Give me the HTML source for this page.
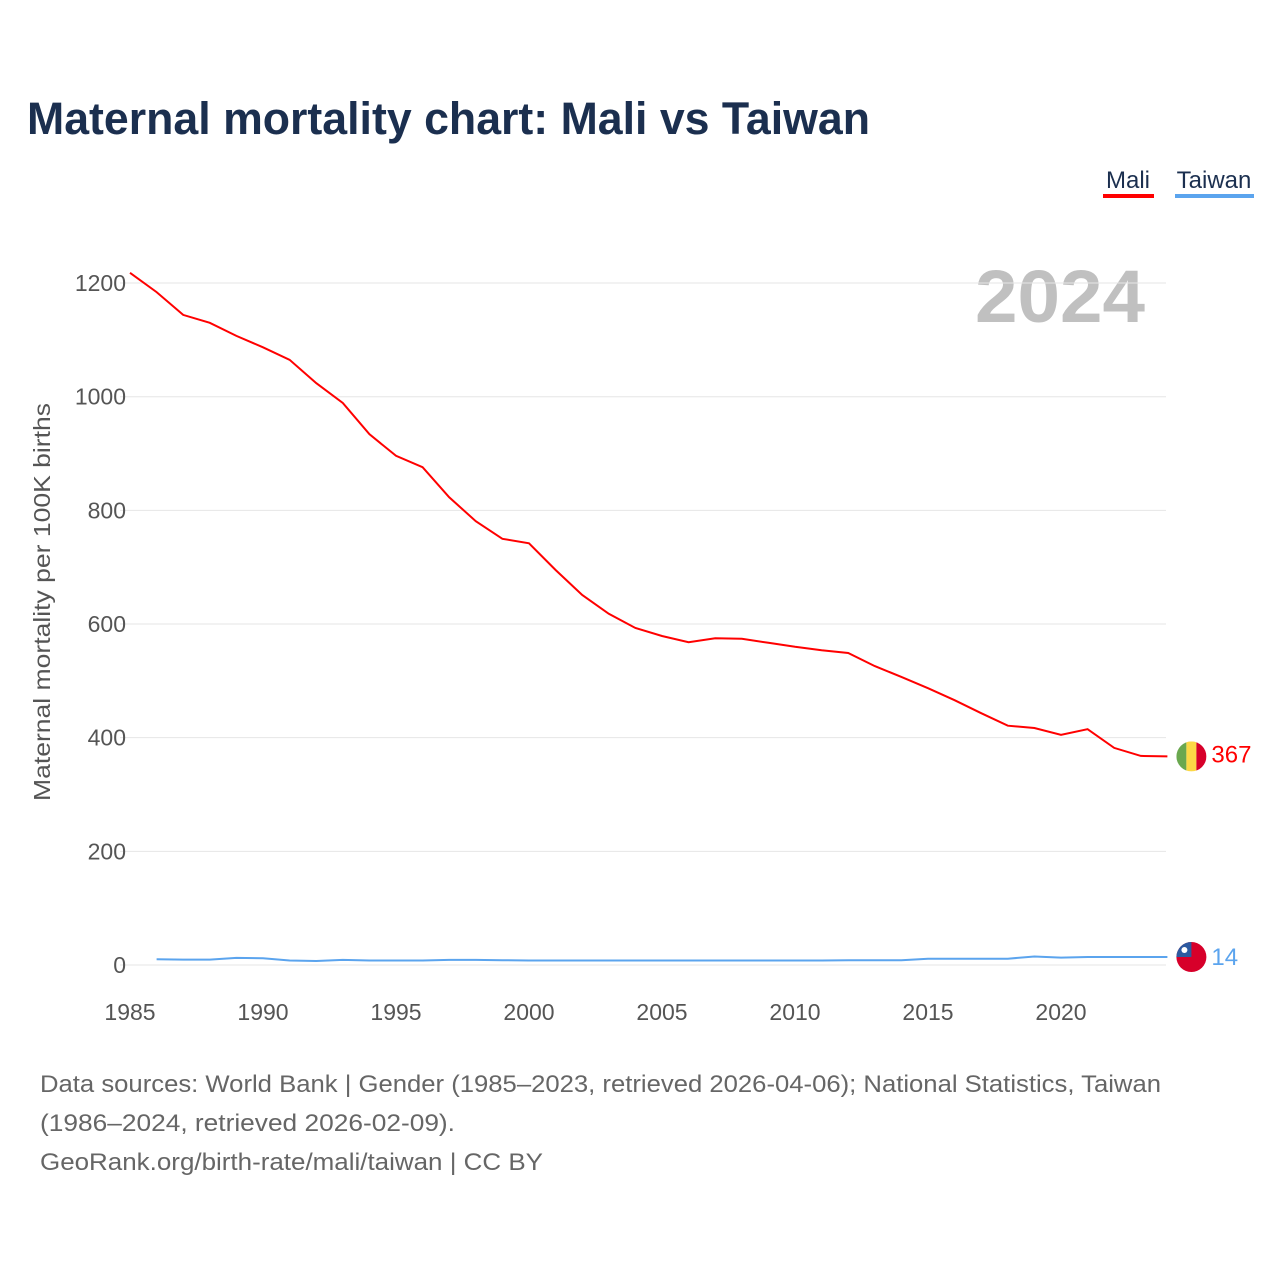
<!DOCTYPE html>
<html><head><meta charset="utf-8"><style>
body{margin:0;background:#fff;font-family:"Liberation Sans",sans-serif}
</style></head><body>
<svg id="c" width="1280" height="1280" xmlns="http://www.w3.org/2000/svg" style="font-family:'Liberation Sans',sans-serif">
<text x="27" y="134" font-size="45" font-weight="bold" fill="#1b2f4f" textLength="843" lengthAdjust="spacingAndGlyphs">Maternal mortality chart: Mali vs Taiwan</text>
<g>
<text x="1128" y="188" font-size="24" fill="#1b2f4f" text-anchor="middle">Mali</text>
<rect x="1103" y="194" width="51" height="4" fill="#ff0000"/>
<text x="1214" y="188" font-size="24" fill="#1b2f4f" text-anchor="middle">Taiwan</text>
<rect x="1175" y="194" width="79" height="4" fill="#5ba4ee"/>
</g>
<text x="1145" y="322" font-size="74" font-weight="bold" fill="#c0c0c0" text-anchor="end" textLength="170" lengthAdjust="spacingAndGlyphs">2024</text>
<text transform="translate(50,602) rotate(-90)" font-size="23" fill="#555" text-anchor="middle" textLength="398" lengthAdjust="spacingAndGlyphs">Maternal mortality per 100K births</text>
<g id="grid"></g><g id="lines"></g>
<g font-size="24" fill="#666">
<text x="40" y="1092" textLength="1121" lengthAdjust="spacingAndGlyphs">Data sources: World Bank | Gender (1985–2023, retrieved 2026-04-06); National Statistics, Taiwan</text>
<text x="40" y="1131" textLength="415" lengthAdjust="spacingAndGlyphs">(1986–2024, retrieved 2026-02-09).</text>
<text x="40" y="1170" textLength="503" lengthAdjust="spacingAndGlyphs">GeoRank.org/birth-rate/mali/taiwan | CC BY</text>
</g>
</svg>
<script>
const maliYears=[1985,1986,1987,1988,1989,1990,1991,1992,1993,1994,1995,1996,1997,1998,1999,2000,2001,2002,2003,2004,2005,2006,2007,2008,2009,2010,2011,2012,2013,2014,2015,2016,2017,2018,2019,2020,2021,2022,2023,2024];
const maliValues=[1218,1184,1144,1130,1107,1087,1065,1024,989,934,896,876,823,781,750,742,695,651,618,593,579,568,575,574,567,560,554,549,526,507,487,466,443,421,417,405,415,382,368,367];
const taiwanYears=[1986,1987,1988,1989,1990,1991,1992,1993,1994,1995,1996,1997,1998,1999,2000,2001,2002,2003,2004,2005,2006,2007,2008,2009,2010,2011,2012,2013,2014,2015,2016,2017,2018,2019,2020,2021,2022,2023,2024];
const taiwanValues=[10,9.5,9.5,12.5,12,8,7,9,8,8,8,9,9,8.5,8,8,8,8,8,8,8,8,8,8,8,8,8.5,8.5,8.5,11,11,11,11,15,13,14,14,14,14];
const yTicks=[0,200,400,600,800,1000,1200];
const xTicks=[1985,1990,1995,2000,2005,2010,2015,2020];
const NS="http://www.w3.org/2000/svg";
const X=v=>130+(v-1985)*26.6, Y=v=>965-v*0.5683;
const svg=document.getElementById('c'),grid=document.getElementById('grid'),lines=document.getElementById('lines');
function mk(t,a,p){const e=document.createElementNS(NS,t);for(const k in a)e.setAttribute(k,a[k]);(p||svg).appendChild(e);return e;}
yTicks.forEach(v=>{
 const l=mk('line',{x1:120,x2:1166,y1:Y(v),y2:Y(v),stroke:'#e6e6e6','stroke-width':1},grid);
 
 
 const t=mk('text',{x:126,y:Y(v)+8,'font-size':23,fill:'#555','text-anchor':'end'},grid);t.textContent=v;
 
 
});
xTicks.forEach(v=>{
 const t=mk('text',{x:X(v),y:1020,'font-size':23,fill:'#555','text-anchor':'middle'},grid);t.textContent=v;
 
 
});
function path(xs,vs){return xs.map((x,i)=>(i?'L':'M')+X(x).toFixed(1)+','+Y(vs[i]).toFixed(1)).join('');}
const pm=mk('path',{d:path(maliYears,maliValues),fill:'none',stroke:'#ff0000','stroke-width':2},lines);


const pt=mk('path',{d:path(taiwanYears,taiwanValues),fill:'none',stroke:'#5ba4ee','stroke-width':2},lines);


const fx=X(2024)+24;
const my=Y(maliValues[maliValues.length-1]);
mk('defs',{}).innerHTML='<clipPath id="cm"><circle cx="'+fx+'" cy="'+my+'" r="15"/></clipPath>';
const fm=mk('g',{'clip-path':'url(#cm)'});


mk('rect',{x:fx-15,y:my-15,width:10,height:30,fill:'#6aa84f'},fm);
mk('rect',{x:fx-5,y:my-15,width:10,height:30,fill:'#fcd846'},fm);
mk('rect',{x:fx+5,y:my-15,width:10,height:30,fill:'#d7002a'},fm);
const ml=mk('text',{x:fx+20,y:my+6,'font-size':24,fill:'#ff0000'});ml.textContent=maliValues[maliValues.length-1];


const ty=Y(taiwanValues[taiwanValues.length-1]);
const tf=mk('g',{});


mk('circle',{cx:fx,cy:ty,r:15,fill:'#d7002a'},tf);
mk('path',{d:'M'+(fx-15)+','+ty+' A15,15 0 0 1 '+fx+','+(ty-15)+' L'+fx+','+ty+'Z',fill:'#2c5aa0'},tf);
mk('circle',{cx:fx-7,cy:ty-7,r:3,fill:'#fff'},tf);
const tl=mk('text',{x:fx+20,y:ty+8,'font-size':24,fill:'#5ba4ee'});tl.textContent=taiwanValues[taiwanValues.length-1];


</script>
</body></html>
